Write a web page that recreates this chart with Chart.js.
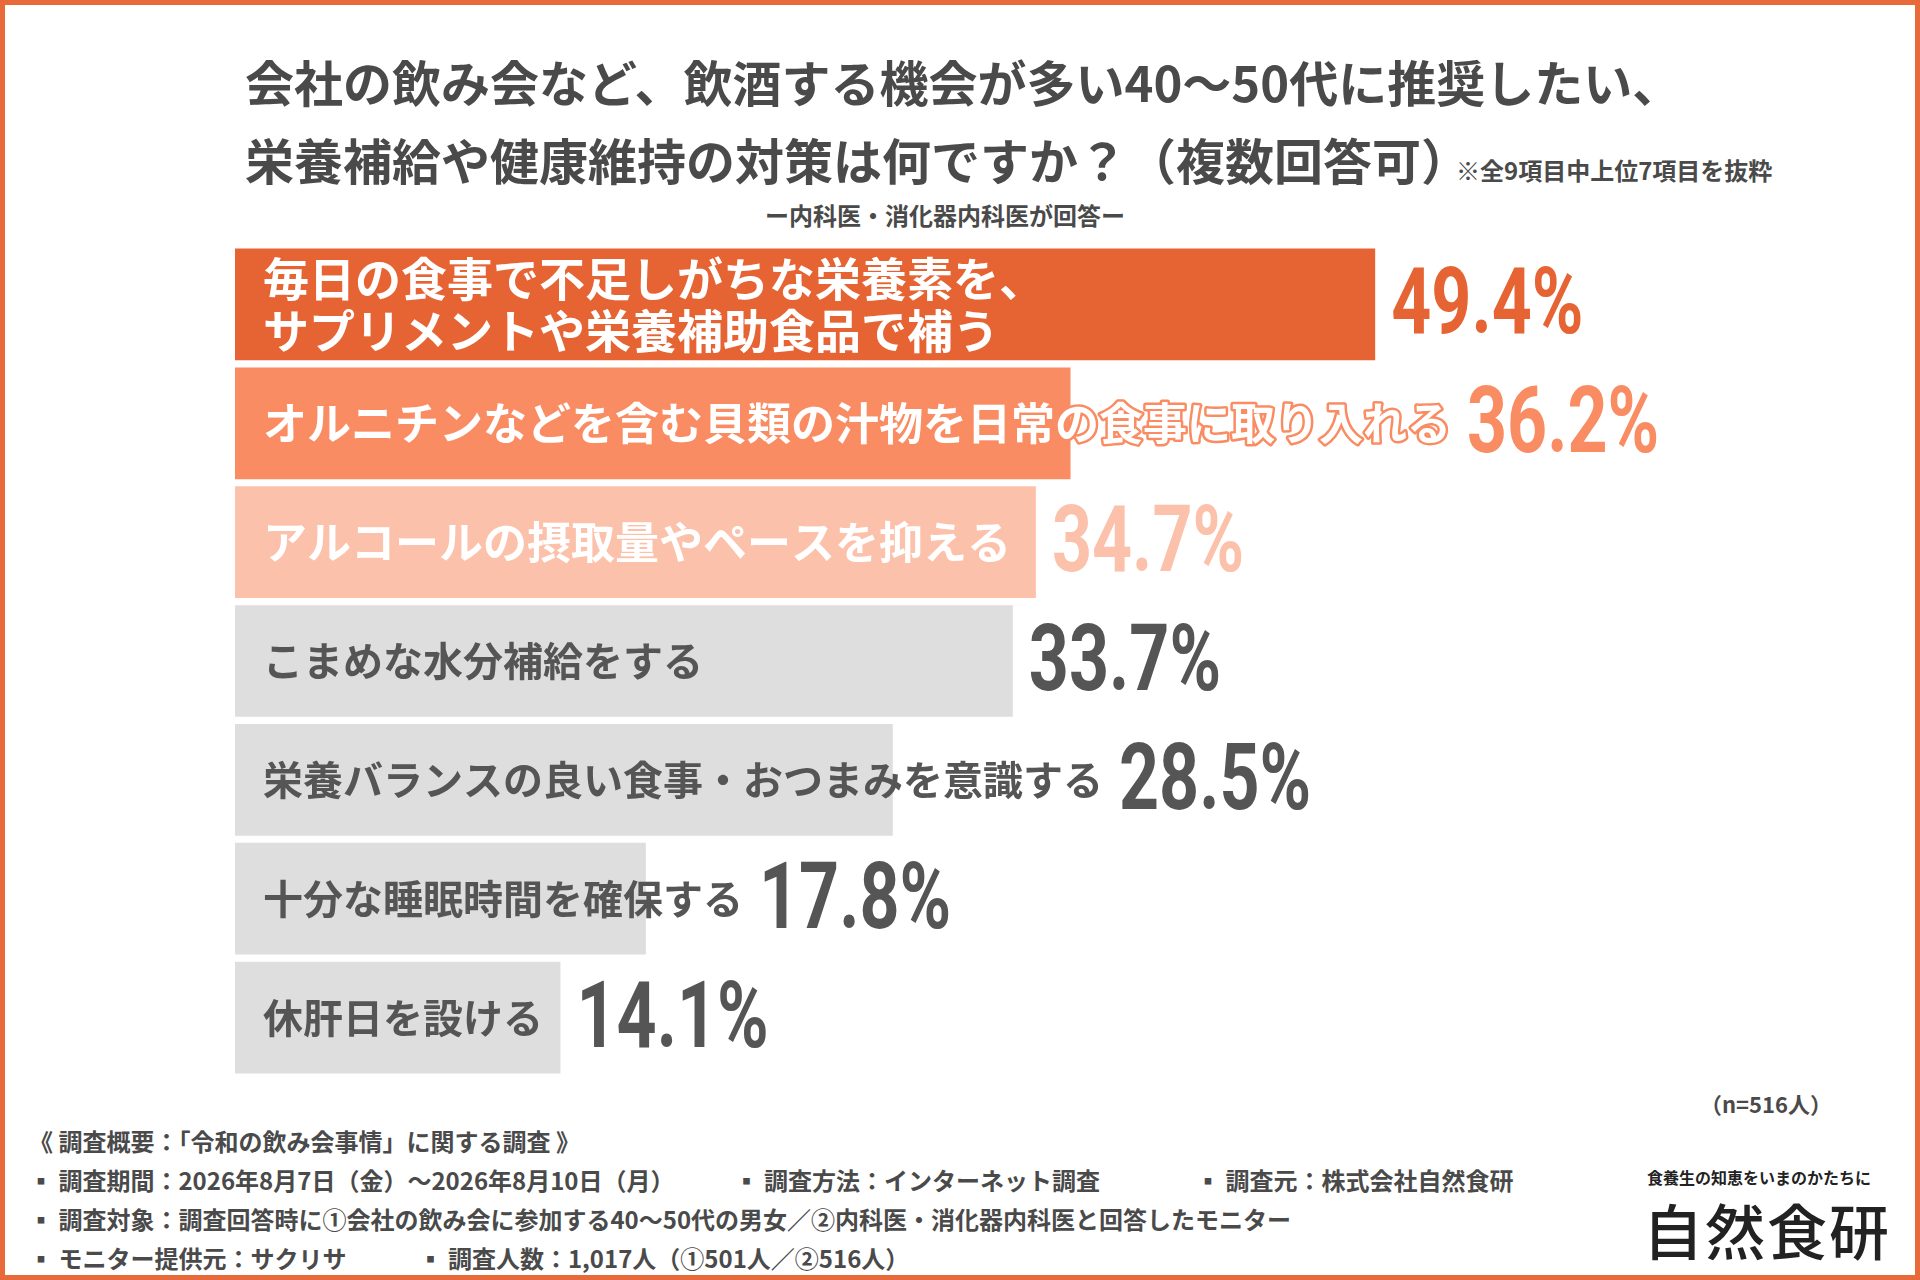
<!DOCTYPE html>
<html><head><meta charset="utf-8">
<script src="https://cdn.jsdelivr.net/npm/chart.js@4"></script>
<style>
html,body{margin:0;padding:0;background:#fff;}
#wrap{position:relative;width:1920px;height:1280px;box-sizing:border-box;border:5px solid #E8693A;font-family:"Noto Sans CJK JP",sans-serif;color:#444;overflow:hidden}
.t{position:absolute;white-space:nowrap;font-weight:bold}
#cv{position:absolute;left:221px;top:240px}
</style></head><body>
<div id="wrap">
<div class="t" style="left:240px;top:40px;font-size:49px;color:#4a4a4a">会社の飲み会など、飲酒する機会が多い40～50代に推奨したい、</div>
<div class="t" style="left:240px;top:118px;font-size:49px;color:#4a4a4a">栄養補給や健康維持の対策は何ですか？（複数回答可）<span style="font-size:24px;margin-left:-14px">※全9項目中上位7項目を抜粋</span></div>
<div class="t" style="left:760px;top:192px;font-size:24px;color:#4a4a4a">ー内科医・消化器内科医が回答ー</div>
<div class="t" style="left:1695px;top:1082px;font-size:22px;color:#4a4a4a">（n=516人）</div>
<div class="t" style="left:24px;top:1116px;font-size:24px;color:#4a4a4a;line-height:39px">《 調査概要：｢令和の飲み会事情」に関する調査 》<br>
▪ 調査期間：2026年8月7日（金）～2026年8月10日（月）　　　▪ 調査方法：インターネット調査　　　　▪ 調査元：株式会社自然食研<br>
▪ 調査対象：調査回答時に①会社の飲み会に参加する40～50代の男女／②内科医・消化器内科医と回答したモニター<br>
▪ モニター提供元：サクリサ　　　▪ 調査人数：1,017人（①501人／②516人）</div>
<div class="t" style="left:1642px;top:1160px;font-size:16px;color:#222">食養生の知恵をいまのかたちに</div>
<div class="t" style="left:1638px;top:1180px;font-size:60px;color:#222;font-weight:500;letter-spacing:2px">自然食研</div>
<canvas id="cv" width="1500" height="832"></canvas>
</div>
<script>
const labels=[["毎日の食事で不足しがちな栄養素を、","サプリメントや栄養補助食品で補う"],["オルニチンなどを含む貝類の汁物を日常の食事に取り入れる"],["アルコールの摂取量やペースを抑える"],["こまめな水分補給をする"],["栄養バランスの良い食事・おつまみを意識する"],["十分な睡眠時間を確保する"],["休肝日を設ける"]];
const values=[49.4,36.2,34.7,33.7,28.5,17.8,14.1];
const barColors=["#E66433","#F98C62","#FCC1AA","#DEDEDE","#DEDEDE","#DEDEDE","#DEDEDE"];
const textColors=["#ffffff","#ffffff","#ffffff","#555555","#555555","#555555","#555555"];
const valueColors=["#E66433","#F98C62","#FCC1AA","#555555","#555555","#555555","#555555"];
const labelSizes=[46,44,44,40,40,40,40];
const labelPlugin={id:"lbl",afterDatasetsDraw(chart){
 const ctx=chart.ctx;const meta=chart.getDatasetMeta(0);
 meta.data.forEach((b,i)=>{
  ctx.save();
  ctx.font="bold "+labelSizes[i]+"px 'Noto Sans CJK JP'";ctx.textBaseline="middle";
  const lines=labels[i];const x0=b.base+28;
  let maxw=0;
  lines.forEach((ln,k)=>{
   const y=b.y+(k-(lines.length-1)/2)*52;
   const w=ctx.measureText(ln).width;maxw=Math.max(maxw,w);
   if(i<3){ctx.lineWidth=5;ctx.strokeStyle=barColors[i];ctx.lineJoin="round";ctx.strokeText(ln,x0,y);}
   ctx.fillStyle=textColors[i];ctx.fillText(ln,x0,y);
  });
  let vx=Math.max(b.x,x0+maxw)+16;
  ctx.font="bold 92px Roboto";ctx.fillStyle=valueColors[i];
  ctx.translate(vx,b.y+6);ctx.scale(0.76,1);
  ctx.fillText(values[i].toFixed(1)+"%",0,0);
  ctx.restore();
 });
}};
new Chart(document.getElementById("cv"),{type:"bar",
 data:{labels:labels.map(l=>l.join("")),datasets:[{data:values,backgroundColor:barColors,barPercentage:0.94,categoryPercentage:1}]},
 options:{indexAxis:"y",responsive:false,animation:false,devicePixelRatio:1,
  layout:{padding:{left:9,right:0,top:0,bottom:0}},
  plugins:{legend:{display:false},tooltip:{enabled:false}},
  scales:{x:{display:false,min:0,max:64.6},y:{display:false}}},
 plugins:[labelPlugin]});
</script>
</body></html>
